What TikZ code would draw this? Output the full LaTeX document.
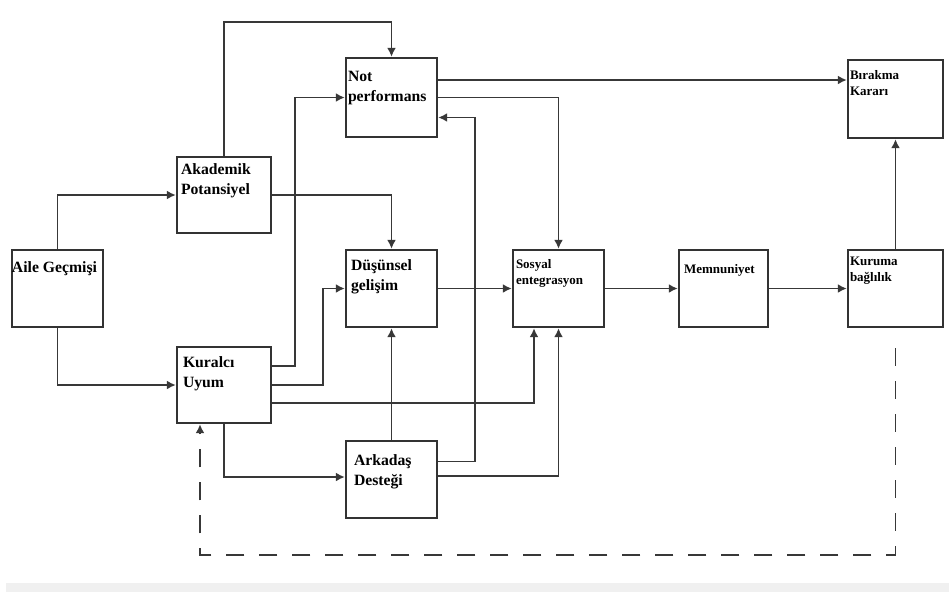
\documentclass[tikz,border=0pt]{standalone}
\usepackage{fontspec}
\setmainfont{Liberation Serif}
\usetikzlibrary{arrows.meta}
\begin{document}
\begin{tikzpicture}[x=1pt,y=-1pt,
  box/.style={draw=black!80, line width=2.4pt, rectangle, fill=white, inner sep=0pt},
  big/.style={inner sep=0pt, anchor=base west, align=left,
    font=\fontsize{15.7}{20}\selectfont\bfseries},
  small/.style={inner sep=0pt, anchor=base west, align=left,
    font=\fontsize{13}{16}\selectfont\bfseries},
  arr/.style={draw=black!78, line width=1.9pt, -{Latex[length=9pt,width=9pt]}},
  fback/.style={arr, dash pattern=on 18pt off 15pt}]
% canvas
\fill[white] (0,0) rectangle (949,592);
\useasboundingbox (0,0) rectangle (949,592);
\fill[black!6] (6,583) rectangle (949,592);

% boxes
\node[box, minimum width=91, minimum height=77] (aile) at (57.5,288.5) {};
\node[box, minimum width=94, minimum height=76] (akad) at (224,195) {};
\node[box, minimum width=91, minimum height=79] (notp) at (391.5,97.5) {};
\node[box, minimum width=91, minimum height=77] (dus)  at (391.5,288.5) {};
\node[box, minimum width=94, minimum height=76] (kur)  at (224,385) {};
\node[box, minimum width=91, minimum height=77] (ark)  at (391.5,479.5) {};
\node[box, minimum width=91, minimum height=77] (sos)  at (558.5,288.5) {};
\node[box, minimum width=89, minimum height=77] (mem)  at (723.5,288.5) {};
\node[box, minimum width=95, minimum height=77] (kurb) at (895.5,288.5) {};
\node[box, minimum width=95, minimum height=78] (bir)  at (895.5,99) {};

% box texts (the base anchor of a two-line label sits on its second line)
\node[big] (aileT) at ([xshift=1pt,yshift=-24pt]aile.north west) {Aile Geçmişi};
\node[big] (akadT) at ([xshift=5pt,yshift=-39pt]akad.north west) {Akademik\\Potansiyel};
\node[big] (notpT) at ([xshift=3pt,yshift=-45pt]notp.north west) {Not\\performans};
\node[big] (dusT)  at ([xshift=6pt,yshift=-42pt]dus.north west) {Düşünsel\\gelişim};
\node[big] (kurT)  at ([xshift=7pt,yshift=-42pt]kur.north west) {Kuralcı\\Uyum};
\node[big] (arkT)  at ([xshift=9pt,yshift=-46pt]ark.north west) {Arkadaş\\Desteği};
\node[small] (sosT)  at ([xshift=4pt,yshift=-36pt]sos.north west) {Sosyal\\entegrasyon};
\node[small] (memT)  at ([xshift=6pt,yshift=-25pt]mem.north west) {Memnuniyet};
\node[small] (kurbT) at ([xshift=3pt,yshift=-33pt]kurb.north west) {Kuruma\\bağlılık};
\node[small] (birT)  at ([xshift=3pt,yshift=-37pt]bir.north west) {Bırakma\\Kararı};

% connector end points
\coordinate (akadUp) at (224,22);
\coordinate (n1) at ([yshift=17.5pt]notp.east);
\coordinate (k1) at ([yshift=19pt]kur.east);
\coordinate (k3) at ([yshift=-18pt]kur.east);
\coordinate (a1) at ([yshift=18pt]ark.east);
\coordinate (a2) at ([yshift=3.5pt]ark.east);
\coordinate (fb) at ([yshift=-20pt]kurb.south);
\coordinate (fbLow) at (895.5,555);

% connectors
\draw[arr] (aile.north) |- (akad.west);
\draw[arr] (aile.south) |- (kur.west);
\draw[arr] (akad.north) -- (akadUp) -| (notp.north);
\draw[arr] (akad.east) -| (dus.north);
\draw[arr] (k1) -- ++(23,0) |- (notp.west);
\draw[arr] (kur.east) -- ++(51,0) |- (dus.west);
\draw[arr] (k3) -| ([xshift=-24.5pt]sos.south);
\draw[arr] (kur.south) |- ([yshift=2.5pt]ark.west);
\draw[arr] (ark.north) -- (dus.south);
\draw[arr] (a1) -- ++(37,0) |- ([yshift=-20pt]notp.east);
\draw[arr] (a2) -| (sos.south);
\draw[arr] (n1) -- (n1 -| bir.west);
\draw[arr] (notp.east) -| (sos.north);
\draw[arr] (dus.east) -- (sos.west);
\draw[arr] (sos.east) -- (mem.west);
\draw[arr] (mem.east) -- (kurb.west);
\draw[arr] (kurb.north) -- (bir.south);
\draw[fback] (fb) -- (fbLow) -| ([xshift=-24pt]kur.south);
\end{tikzpicture}
\end{document}
